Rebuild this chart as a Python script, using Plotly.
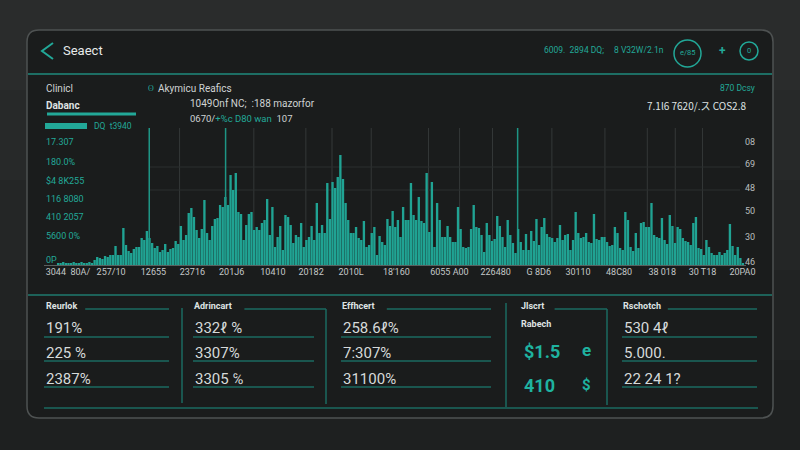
import plotly.graph_objects as go
import numpy as np

# ---------------- data ----------------
bar_values = [
    # low run-in
    2, 2, 3, 2, 2, 2, 3, 2, 2, 3, 2, 2, 3, 2,
    # segment 1
    5, 8, 7, 6, 9, 8, 10, 10, 19, 10, 10, 37, 20, 14, 12, 16, 18, 18, 27, 25,
    34, 27, 22, 17, 19, 13, 15, 21, 13, 16, 17, 24, 21, 39, 25, 30, 52, 57, 48, 35,
    27, 36, 65, 32, 25, 39, 46, 47, 60, 58,
    # segment 2
    68, 60, 90, 75, 92, 53, 51, 25, 40, 51, 53, 35, 38, 35, 42, 45, 66, 30, 58, 18,
    28, 39, 15, 50, 48, 40, 22, 30, 28, 42, 18, 25, 28, 39, 25, 62, 32, 40, 32, 82,
    46, 83, 77, 88, 110, 86, 62, 45, 32, 32, 38, 27, 25, 44, 18, 20, 32, 38, 10, 29,
    23, 20, 46, 39, 54, 38, 45, 28,
    # segment 3
    58, 45, 45, 82, 50, 45, 68, 44, 42, 92, 33, 83, 18, 62, 45, 28, 28, 39, 28, 23,
    23, 58, 36, 18, 17, 18, 36, 60, 38, 37, 30, 13, 42, 30, 24, 26, 49, 39, 28, 18,
    45, 30, 22, 12, 36, 23, 15, 31, 15, 34, 24, 46, 20, 38, 47, 31, 28, 27, 23, 27,
    40, 25, 30, 31, 15,
    # segment 4
    25, 53, 32, 27, 28, 32, 23, 22, 51, 26, 25, 28, 28, 23, 19, 20, 38, 32, 17, 15,
    53, 45, 18, 14, 32, 17, 42, 43, 38, 38, 62, 30, 28, 27, 47, 25, 21, 50, 39, 22,
    38, 36, 27, 24, 23, 20, 42, 48, 17, 16, 10, 25, 18, 12, 10, 10, 13, 10, 12, 15,
    41, 19, 10, 18, 7, 2,
]
N = len(bar_values)
bar_index = list(range(N))

x_tick_pos = [3.8, 20.3, 36.5, 51.4, 66.4, 82.2, 96.8, 112.1, 129.4, 149.7, 167.4, 183.9, 198.9,
              214.6, 231.1, 246.5, 261.8]
x_tick_labels = ["3044  80A/", "257/10", "12655", "23716", "201J6", "10410", "20182", "2010L",
                 "18'160", "6055 A00", "226480", "G 8D6", "30110", "48C80", "38 018", "30 T18", "20PA0"]

left_y_labels = ["17.307", "180.0%", "&#36;4 8K255", "116 8080", "410 2057", "5600 0%", "0P"]
left_y_pos = [123, 103, 84, 66, 48, 29, 5]
right_y_labels = ["08", "69", "48", "50", "30", "46"]
right_y_pos = [123, 101, 77, 54, 28, 3]

marker_idx = [34.9, 64.1, 175.8]
grid_idx = [46.5, 74.9, 94.8, 104.8, 119.8, 141.7, 153.6, 166.2, 188.9, 209.2, 225.4, 236.1, 246.5]
grid_levels = [75, 98]

col_titles = ["Reurlok", "Adrincart", "Effhcert", "Jlscrt", "Rschotch"]
col1_vals = ["191%", "225 %", "2387%"]
col2_vals = ["332ℓ %", "3307%", "3305 ℅"]
col3_vals = ["258.6ℓ%", "7:307%", "31100%"]
col5_vals = ["530 4ℓ", "5.000.", "22 24 1?"]
col4_sub = "Rabech"
col4_vals = ["&#36;1.5", "410"]

W, H = 800, 450
def px(x): return x / W
def py(y): return 1 - y / H

TEAL = "#22a898"
TEAL_DIM = "#1b6a60"
TXT = "#d6dada"

fig = go.Figure()
fig.add_trace(go.Bar(x=bar_index, y=bar_values, marker=dict(color="#20a393", line=dict(width=0)),
                     hoverinfo="skip"))

shapes = []
ann = []

def A(x, y, text, size=10, color=TXT, xanchor="left", bold=False, family="Roboto"):
    t = f"<b>{text}</b>" if bold else text
    ann.append(dict(x=px(x), y=py(y), xref="paper", yref="paper", text=t, showarrow=False,
                    xanchor=xanchor, yanchor="middle", font=dict(size=size, color=color, family=family)))

def L(x0, y0, x1, y1, color=TEAL_DIM, width=1.5):
    shapes.append(dict(type="line", xref="paper", yref="paper", x0=px(x0), y0=py(y0), x1=px(x1), y1=py(y1),
                       line=dict(color=color, width=width), layer="below"))

# background gradient bands
for i, c in enumerate(["#2a2c2c", "#272929", "#242626", "#212323", "#1e2020"]):
    shapes.append(dict(type="rect", xref="paper", yref="paper", x0=0, x1=1, y0=1 - (i + 1) / 5, y1=1 - i / 5,
                       fillcolor=c, line=dict(width=0), layer="below"))

# panel
x0, x1, y0, y1, r = 27, 773, 30, 418, 12
path = (f"M {px(x0 + r)} {py(y0)} L {px(x1 - r)} {py(y0)} Q {px(x1)} {py(y0)} {px(x1)} {py(y0 + r)} "
        f"L {px(x1)} {py(y1 - r)} Q {px(x1)} {py(y1)} {px(x1 - r)} {py(y1)} L {px(x0 + r)} {py(y1)} "
        f"Q {px(x0)} {py(y1)} {px(x0)} {py(y1 - r)} L {px(x0)} {py(y0 + r)} Q {px(x0)} {py(y0)} {px(x0 + r)} {py(y0)} Z")
shapes.append(dict(type="path", xref="paper", yref="paper", path=path, fillcolor="#1a1c1c",
                   line=dict(color="#4e5252", width=1.5), layer="below"))

# header
L(28, 74, 772, 74, color="#1f8a7c", width=1.5)
shapes.append(dict(type="path", xref="paper", yref="paper",
                   path=f"M {px(53)} {py(43)} L {px(42)} {py(51)} L {px(53)} {py(59)}",
                   line=dict(color=TEAL, width=2)))
A(61, 50, "Seaect", size=13, color="#e6eaea")
A(542, 50, "6009.  2894 DQ;", size=8.5, color=TEAL)
A(612, 50, "8 V32W/2.1n", size=8.5, color=TEAL)
shapes.append(dict(type="circle", xref="paper", yref="paper", x0=px(674), x1=px(701), y0=py(40), y1=py(67),
                   line=dict(color=TEAL, width=1.5)))
A(687.5, 53, "e/85", size=7.5, color=TEAL, xanchor="center")
A(722, 51, "+", size=12, color=TEAL, xanchor="center", bold=True)
shapes.append(dict(type="circle", xref="paper", yref="paper", x0=px(740), x1=px(758), y0=py(42), y1=py(60),
                   line=dict(color=TEAL, width=1.5)))
A(749, 51, "0", size=7.5, color=TEAL, xanchor="center")

# info rows
A(44, 88, "Clinicl", size=10, color="#cfd3d3")
A(44, 105, "Dabanc", size=10, color="#dfe3e3", bold=True)
L(47, 114, 136, 114, color=TEAL, width=3)
shapes.append(dict(type="rect", xref="paper", yref="paper", x0=px(45), x1=px(87), y0=py(129), y1=py(123),
                   fillcolor=TEAL, line=dict(width=0)))
A(92, 126, "DQ  t3940", size=8.5, color=TEAL)
A(146, 88, "ʘ", size=8, color=TEAL)
A(156, 88, "Akymicu Reafics", size=10, color="#cfd3d3")
A(188, 104, "1049Onf NC;  :188 mazorfor", size=10, color="#cfd3d3")
A(188, 118, f"0670/<span style='color:{TEAL}'>+%c D80 wan</span>  107", size=9.5, color="#cfd3d3")
A(757, 88, "870 Dcsy", size=8.5, color=TEAL, xanchor="right")
A(748, 105, "7.1l6 7620/.ス COS2.8", size=10, color="#dfe3e3", xanchor="right", family="Noto Sans CJK JP")

# chart grid / markers (data coordinates on x)
for g in grid_idx:
    shapes.append(dict(type="line", xref="x", yref="paper", x0=g, x1=g, y0=py(265), y1=py(128),
                       line=dict(color="#343838", width=1), layer="below"))
for g in grid_levels:
    shapes.append(dict(type="line", xref="paper", yref="y", x0=px(150), x1=px(740), y0=g, y1=g,
                       line=dict(color="#2a2e2e", width=1), layer="below"))
for m in marker_idx:
    shapes.append(dict(type="line", xref="x", yref="paper", x0=m, x1=m, y0=py(265), y1=py(128),
                       line=dict(color="#1e9585", width=1.5)))
L(44, 265.5, 746, 265.5, color="#5a5f5f", width=1)

for t, v in zip(left_y_labels, left_y_pos):
    ann.append(dict(x=px(44), y=v, xref="paper", yref="y", text=t, showarrow=False, xanchor="left",
                    yanchor="middle", font=dict(size=9, color=TEAL, family="Roboto")))
for t, v in zip(right_y_labels, right_y_pos):
    ann.append(dict(x=px(743), y=v, xref="paper", yref="y", text=t, showarrow=False, xanchor="left",
                    yanchor="middle", font=dict(size=9, color="#b9bebe", family="Roboto")))

# bottom section
L(28, 295, 772, 295, color="#1f7a6e", width=1.5)
L(44, 408, 758, 408, color=TEAL_DIM, width=1.5)
L(182, 308, 182, 403)
L(506, 303, 506, 407)
L(326, 309, 326, 404)
L(607, 309, 607, 405)

cols = [
    (44, 169, col1_vals),
    (193, 314, col2_vals),
    (341, 491, col3_vals),
    (622, 757, col5_vals),
]
title_pos = [(44, 169), (192, 326), (340, 491), (519, 607), (621, 757)]
for (tx, tend), title in zip(title_pos, col_titles):
    A(tx, 306, title, size=9, color="#dfe3e3", bold=True)
    L(tx + len(title) * 5.6 + 2, 309, tend, 309)
for xs, xe, vals in cols:
    for (vy, ly), v in zip([(328, 337), (353, 361), (379, 387)], vals):
        A(xs, vy, v, size=15, color=TXT, family="Roboto")
        L(xs, ly, xe, ly)

A(519, 324, col4_sub, size=9, color="#dfe3e3", bold=True)
A(522, 351, col4_vals[0], size=18, color="#1fb3a0", bold=True)
A(522, 385, col4_vals[1], size=18, color="#1fb3a0", bold=True)
A(586, 350, "e", size=17, color="#1fb3a0", xanchor="center", bold=True)
A(586, 385, "&#36;", size=15, color="#1fb3a0", xanchor="center", bold=True)

fig.update_layout(
    width=W, height=H, margin=dict(l=0, r=0, t=0, b=0, pad=0, autoexpand=False),
    paper_bgcolor="#1e2020", plot_bgcolor="rgba(0,0,0,0)",
    showlegend=False, bargap=0.1,
    shapes=shapes, annotations=ann,
    xaxis=dict(domain=[56.7 / W, 744.3 / W], range=[-0.5, N - 0.5], showgrid=False, zeroline=False,
               tickmode="array", tickvals=x_tick_pos, ticktext=x_tick_labels, ticks="",
               tickfont=dict(size=9, color="#c4c8c8", family="Roboto"), showline=False, automargin=False),
    yaxis=dict(domain=[py(265), py(128)], range=[0, 137], showgrid=False, zeroline=False,
               showticklabels=False, showline=False, automargin=False),
)
fig.write_html("out.html")
